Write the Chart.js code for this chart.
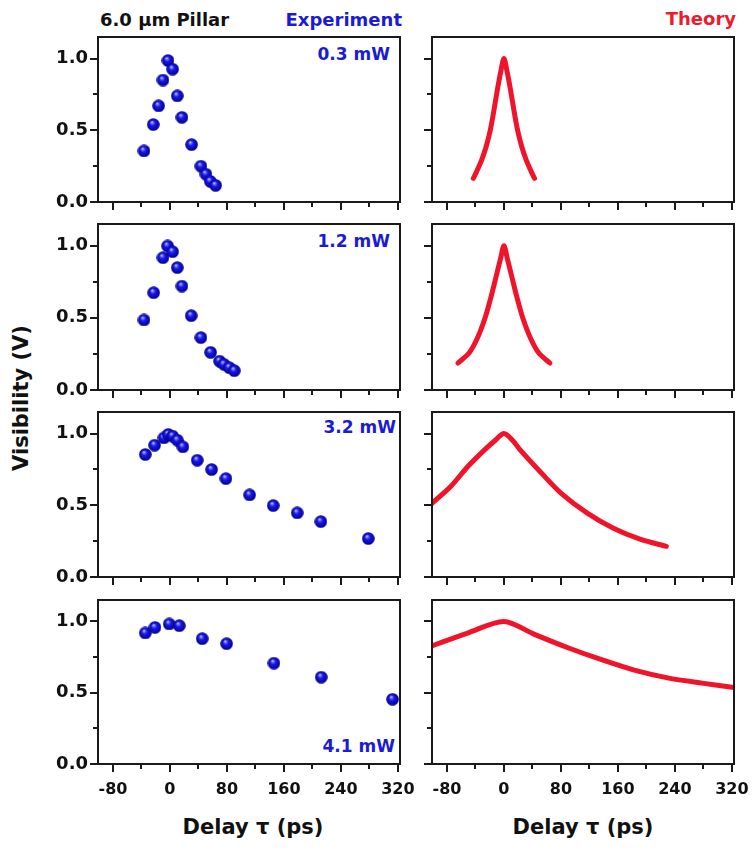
<!DOCTYPE html>
<html>
<head>
<meta charset="utf-8">
<script src="https://cdn.jsdelivr.net/npm/chart.js@4.4.1/dist/chart.umd.min.js"></script>
<style>
  body { margin: 0; background: #fff; }
  #fig { position: relative; width: 753px; height: 855px; overflow: hidden;
         font-family: "DejaVu Sans", sans-serif; font-weight: bold; }
  #fig canvas { position: absolute; }
  .lbl { position: absolute; white-space: nowrap; line-height: 1; }
  .blue { color: #1b1bd6; }
</style>
</head>
<body>
<div id="fig">
  <div class="lbl" style="left:100px;top:11px;font-size:18px;color:#111">6.0 µm Pillar</div>
  <div class="lbl blue" style="right:351px;top:11px;font-size:18px">Experiment</div>
  <div class="lbl" style="right:17px;top:10px;font-size:18px;color:#ee1b2e">Theory</div>
  <div class="lbl blue" style="right:363px;top:46px;font-size:17px" id="p0"></div>
  <div class="lbl blue" style="right:363px;top:233px;font-size:17px" id="p1"></div>
  <div class="lbl blue" style="right:357px;top:419px;font-size:17px" id="p2"></div>
  <div class="lbl blue" style="right:358px;top:738px;font-size:17px" id="p3"></div>
  <div class="lbl" style="left:21px;top:398px;font-size:21px;color:#111;transform:translate(-50%,-50%) rotate(-90deg)">Visibility (V)</div>
  <div class="lbl" style="left:253px;top:817px;font-size:21px;color:#111;transform:translateX(-50%)">Delay τ (ps)</div>
  <div class="lbl" style="left:583px;top:817px;font-size:21px;color:#111;transform:translateX(-50%)">Delay τ (ps)</div>
</div>
<script>
// panel labels
const powers = ['0.3 mW', '1.2 mW', '3.2 mW', '4.1 mW'];

// axis ticks with labels
const xMajor = [-80, 0, 80, 160, 240, 320];
const yMajor = [0, 0.5, 1.0];

// Experiment (blue spheres): delay (ps) / visibility
const delayExp03 = [-36.5, -23.4, -15.9, -9.8, -2.8, 3.7, 10.3, 16.8, 30.4, 43.5, 50.5, 56.6, 64.1];
const visExp03   = [0.356, 0.54, 0.67, 0.85, 0.986, 0.926, 0.74, 0.59, 0.40, 0.25, 0.194, 0.144, 0.116];

const delayExp12 = [-36.5, -22.9, -9.8, -3.3, 3.7, 10.3, 16.8, 29.9, 43.5, 57.1, 69.7, 75.8, 83.3, 90.3];
const visExp12   = [0.485, 0.674, 0.917, 0.998, 0.958, 0.848, 0.72, 0.515, 0.363, 0.261, 0.20, 0.178, 0.155, 0.134];

const delayExp32 = [-34.6, -21.5, -8.4, -2.3, 3.7, 10.3, 18.2, 38.3, 58.5, 78.6, 111.8, 145, 178.7, 211.9, 278.5];
const visExp32   = [0.854, 0.919, 0.970, 0.994, 0.982, 0.954, 0.907, 0.814, 0.749, 0.686, 0.572, 0.498, 0.447, 0.386, 0.268];

const delayExp41 = [-34.6, -21, -1, 13.1, 45.3, 79.5, 146, 212.4, 312.5];
const visExp41   = [0.919, 0.958, 0.982, 0.970, 0.879, 0.844, 0.707, 0.609, 0.454];

// Theory (red curves)
const delayTh03 = [-43, -38.5, -31.5, -25, -19.2, -14, -9.3, -4.2, 0, 4.2, 9.3, 14, 19.2, 25, 31.5, 38.5, 43];
const visTh03   = [0.165, 0.21, 0.29, 0.385, 0.50, 0.64, 0.78, 0.915, 1.0, 0.915, 0.78, 0.64, 0.50, 0.385, 0.29, 0.21, 0.165];

const delayTh12 = [-64.5, -49, -37.2, -26.4, -18.5, -11.5, -4.5, 0, 4.5, 11.5, 18.5, 26.4, 37.2, 49, 64.5];
const visTh12   = [0.187, 0.256, 0.36, 0.50, 0.638, 0.776, 0.915, 1.0, 0.915, 0.776, 0.638, 0.50, 0.36, 0.256, 0.187];

const delayTh32 = [-103, -74.4, -51, -27.6, -11.7, 0, 11.7, 23.4, 51.9, 80, 117, 154.4, 192, 228];
const visTh32   = [0.505, 0.633, 0.768, 0.884, 0.955, 1.0, 0.955, 0.882, 0.728, 0.585, 0.445, 0.338, 0.262, 0.214];

const delayTh41 = [-103, -51, 0, 42, 89, 136, 183, 229.8, 278, 326];
const visTh41   = [0.825, 0.918, 1.0, 0.911, 0.817, 0.733, 0.658, 0.604, 0.567, 0.535];

const rows = [
  { top: 37,  h: 165, ex: delayExp03, ey: visExp03, tx: delayTh03, ty: visTh03 },
  { top: 224, h: 166, ex: delayExp12, ey: visExp12, tx: delayTh12, ty: visTh12 },
  { top: 412, h: 165, ex: delayExp32, ey: visExp32, tx: delayTh32, ty: visTh32 },
  { top: 600, h: 164, ex: delayExp41, ey: visExp41, tx: delayTh41, ty: visTh41 }
];
const colLeft = [98, 432];
const plotW = 302;
const PAD_L = 50, PAD_T = 26, PAD_R = 36, PAD_B = 40;

powers.forEach((p, i) => { document.getElementById('p' + i).textContent = p; });

const isMajorY = v => yMajor.some(m => Math.abs(m - v) < 1e-6);

// blue shaded ball used as point style
const ball = document.createElement('canvas');
ball.width = 13; ball.height = 13;
(() => {
  const c = ball.getContext('2d');
  const g = c.createRadialGradient(5, 4, 0, 6.5, 6.5, 6.4);
  g.addColorStop(0, '#f4f4ff');
  g.addColorStop(0.17, '#7a7aff');
  g.addColorStop(0.42, '#1818ee');
  g.addColorStop(1, '#00008a');
  c.fillStyle = g;
  c.beginPath();
  c.arc(6.5, 6.5, 6.3, 0, Math.PI * 2);
  c.fill();
})();

// frame box + outward ticks (major long, minor short)
const frameTicks = {
  id: 'frameTicks',
  afterDraw(chart) {
    const { ctx, chartArea: a } = chart;
    const xs = chart.scales.x, ys = chart.scales.y;
    ctx.save();
    ctx.strokeStyle = '#1a1a1a';
    ctx.lineWidth = 2;
    ctx.beginPath();
    xs.ticks.forEach(t => {
      const px = Math.round(xs.getPixelForValue(t.value));
      const len = xMajor.includes(t.value) ? 8 : 5;
      ctx.moveTo(px, a.bottom);
      ctx.lineTo(px, a.bottom + len);
    });
    ys.ticks.forEach(t => {
      const py = Math.round(ys.getPixelForValue(t.value));
      const len = isMajorY(t.value) ? 8 : 5;
      ctx.moveTo(a.left, py);
      ctx.lineTo(a.left - len, py);
    });
    ctx.stroke();
    ctx.strokeRect(a.left, a.top, a.right - a.left, a.bottom - a.top);
    ctx.restore();
  }
};

function makePanel(col, r) {
  const row = rows[r];
  const bottomRow = r === rows.length - 1;
  const cv = document.createElement('canvas');
  const W = PAD_L + plotW + PAD_R, H = PAD_T + row.h + PAD_B;
  cv.width = W; cv.height = H;
  cv.style.left = (colLeft[col] - PAD_L) + 'px';
  cv.style.top = (row.top - PAD_T) + 'px';
  cv.style.width = W + 'px'; cv.style.height = H + 'px';
  document.getElementById('fig').appendChild(cv);

  let dataset;
  if (col === 0) {
    dataset = {
      data: row.ex.map((x, i) => ({ x: x, y: row.ey[i] })),
      showLine: false,
      pointStyle: ball,
      pointRadius: 6,
      clip: false
    };
  } else {
    dataset = {
      data: row.tx.map((x, i) => ({ x: x, y: row.ty[i] })),
      showLine: true,
      borderColor: '#f0142a',
      borderWidth: 5,
      borderCapStyle: 'round',
      borderJoinStyle: 'round',
      tension: 0.3,
      pointRadius: 0,
      clip: 0
    };
  }

  new Chart(cv, {
    type: 'scatter',
    data: { datasets: [dataset] },
    options: {
      responsive: false,
      animation: false,
      events: [],
      devicePixelRatio: 1,
      layout: { padding: { left: 0, top: PAD_T, right: PAD_R, bottom: 0 } },
      plugins: { legend: { display: false }, tooltip: { enabled: false } },
      scales: {
        x: {
          type: 'linear', min: -101, max: 323,
          grid: { display: false, drawTicks: false },
          border: { display: false },
          ticks: {
            stepSize: 40, includeBounds: false, autoSkip: false,
            maxRotation: 0, minRotation: 0, padding: 16, color: '#111',
            font: { family: 'DejaVu Sans', weight: 'bold', size: 16 },
            callback: v => (bottomRow && xMajor.includes(v)) ? String(v) : ''
          },
          afterFit: s => { s.height = PAD_B; }
        },
        y: {
          type: 'linear', min: 0, max: 1.15,
          grid: { display: false, drawTicks: false },
          border: { display: false },
          ticks: {
            stepSize: 0.25, includeBounds: false, padding: 10, color: '#111',
            font: { family: 'DejaVu Sans', weight: 'bold', size: 18 },
            callback: v => (col === 0 && isMajorY(v)) ? v.toFixed(1) : ''
          },
          afterFit: s => { s.width = PAD_L; }
        }
      }
    },
    plugins: [frameTicks]
  });
}

for (let r = 0; r < rows.length; r++) {
  makePanel(0, r);
  makePanel(1, r);
}
</script>
</body>
</html>
